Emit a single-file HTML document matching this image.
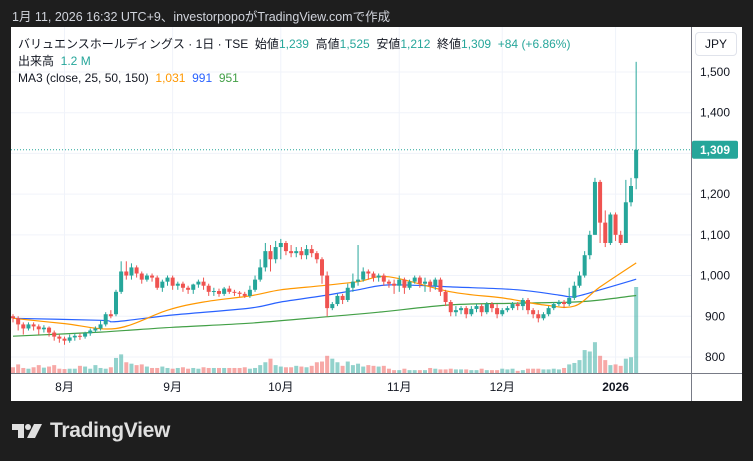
<!DOCTYPE html>
<html><head><meta charset="utf-8"><style>
body{margin:0;width:753px;height:461px;background:#1e1e1e;overflow:hidden;font-family:"Liberation Sans","Noto Sans CJK JP",sans-serif;}
#hdr{position:absolute;left:12px;top:6px;color:#d1d4dc;font-size:12.5px;}
#panel{position:absolute;left:11px;top:27px;width:731px;height:374px;background:#fff;}
svg text{font-family:"Liberation Sans","Noto Sans CJK JP",sans-serif;}
</style></head><body>
<div id="hdr">1月 11, 2026 16:32 UTC+9、investorpopoがTradingView.comで作成</div>
<div id="panel"></div>
<svg id="chart" width="753" height="461" style="position:absolute;left:0;top:0">
<g id="grid"></g>
<g id="vol"></g>
<g id="mas"></g>
<g id="candles"></g>
<g id="axes"></g>
</svg>
<div style="position:absolute;left:18px;top:36px;font-size:12px;color:#131722;line-height:17px">
<div>バリュエンスホールディングス · 1日 · TSE&nbsp; 始値<span style="color:#26a69a">1,239</span>&nbsp; 高値<span style="color:#26a69a">1,525</span>&nbsp; 安値<span style="color:#26a69a">1,212</span>&nbsp; 終値<span style="color:#26a69a">1,309</span>&nbsp; <span style="color:#26a69a">+84 (+6.86%)</span></div>
<div>出来高&nbsp; <span style="color:#26a69a">1.2 M</span></div>
<div>MA3 (close, 25, 50, 150)&nbsp; <span style="color:#ff9800">1,031</span>&nbsp; <span style="color:#2962ff">991</span>&nbsp; <span style="color:#43a047">951</span></div>
</div>
<div style="position:absolute;left:695px;top:32px;width:42px;height:24px;border:1px solid #e0e3eb;border-radius:4px;box-sizing:border-box;font-size:12px;color:#131722;text-align:center;line-height:22px;background:#fff">JPY</div>
<div style="position:absolute;left:12px;top:418px;height:26px;display:flex;align-items:center">
<svg width="32" height="16" viewBox="0 0 32 16"><path d="M0 1h12v14H6V7H0z" fill="#e0e0e0"/><circle cx="16" cy="4" r="3" fill="#e0e0e0"/><path d="M22 1h8l-7 14h-8z" fill="#e0e0e0"/></svg>
<span style="color:#e0e0e0;font-size:21px;font-weight:bold;margin-left:6px;letter-spacing:-0.3px">TradingView</span></div>
<script>
const opens=[900,895,880,870,880,875,868,872,860,850,845,840,848,852,850,858,865,870,880,905,905,960,1010,1000,1020,1005,990,1000,995,970,985,995,975,980,970,965,978,985,975,960,962,955,968,960,958,955,950,965,990,1020,1060,1040,1070,1080,1060,1055,1060,1050,1065,1055,1040,1000,920,930,950,940,970,985,990,1010,1005,995,1000,985,980,975,990,970,985,995,980,985,975,990,960,935,910,915,920,905,918,925,910,930,920,905,915,920,930,925,940,915,905,895,905,920,930,935,930,945,975,1000,1050,1100,1230,1130,1080,1150,1100,1080,1180,1239];
const highs=[905,900,885,885,885,880,878,875,865,855,850,855,858,858,862,870,875,890,910,915,965,1035,1035,1030,1025,1010,1005,1005,1000,990,1000,1000,985,985,975,980,990,995,980,970,968,972,975,965,962,960,975,1000,1040,1080,1075,1085,1090,1085,1075,1070,1070,1075,1075,1060,1045,1010,935,955,955,980,1005,1075,1020,1015,1010,1005,1005,990,990,1000,995,990,1000,1000,995,990,995,995,965,940,925,925,925,925,930,930,935,935,930,920,925,935,935,945,945,920,915,910,925,935,940,940,970,985,1010,1060,1110,1240,1235,1160,1155,1155,1110,1235,1240,1525];
const lows=[885,865,855,865,865,855,860,850,840,835,830,835,840,842,845,852,860,865,875,895,900,955,990,990,995,980,985,985,965,960,975,965,965,960,955,955,970,965,950,950,948,950,955,950,948,945,945,960,985,1010,1010,1030,1040,1050,1045,1045,1040,1040,1045,1030,980,900,915,925,930,935,960,975,985,990,985,985,975,970,955,960,955,965,980,970,960,960,965,950,925,900,900,905,895,900,910,900,905,910,895,900,910,915,915,915,905,895,885,890,900,915,925,920,925,940,970,995,1040,1100,1080,1070,1075,1085,1075,1130,1170,1212];
const closes=[895,880,870,880,875,868,872,860,850,845,840,848,852,850,858,865,870,880,905,900,960,1010,1000,1020,1005,990,1000,995,970,985,995,975,980,970,965,978,985,975,960,962,955,968,960,958,955,950,965,990,1020,1060,1040,1070,1080,1060,1055,1060,1050,1065,1055,1040,1000,920,930,950,940,970,985,990,1010,1005,995,1000,985,980,975,990,970,985,995,980,985,975,990,960,935,910,915,920,905,918,925,910,930,920,905,915,920,930,925,940,915,905,895,905,920,930,935,930,945,975,1000,1050,1100,1230,1130,1080,1150,1100,1080,1180,1220,1309];
const volumes=[80,120,70,60,80,110,75,90,110,60,55,60,60,100,90,60,110,70,60,80,210,260,150,130,110,120,90,70,70,90,70,60,70,80,60,70,60,80,70,70,70,70,70,70,70,80,60,70,110,150,200,110,90,80,80,100,90,80,100,150,160,240,200,150,100,160,110,130,90,110,100,90,100,60,40,40,60,40,40,40,40,70,60,50,50,60,50,50,50,40,40,60,40,40,40,60,50,60,30,40,60,60,60,50,50,60,50,70,120,140,180,320,300,430,240,180,110,120,100,200,220,1200];
const ma25Idx=[0,10,20,30,37,46,52,60,67,73,85,95,103,109,114,121];
const ma25=[895,882,870,915,935,950,965,975,985,997,960,945,928,925,972,1031];
const ma50Idx=[0,17,20,31,46,52,60,67,73,85,98,106,109,114,121];
const ma50=[895,890,887,903,920,935,950,965,977,972,965,952,948,965,991];
const ma150Idx=[0,17,31,46,62,71,85,98,109,114,121];
const ma150=[851,861,873,883,900,910,928,932,935,940,951];
const priceTicks=[800,900,1000,1100,1200,1300,1400,1500];
const monthLabels=["8月","9月","10月","11月","12月","2026"];
const monthIdx=[10,31,52,75,95,117];

const NS="http://www.w3.org/2000/svg";
const x=i=>13+i*5.15;
const y=p=>72+(1500-p)*0.4071;
const vy=v=>373-v*(86/1200);
function mk(tag,attrs,parent){const e=document.createElementNS(NS,tag);for(const k in attrs)e.setAttribute(k,attrs[k]);document.getElementById(parent).appendChild(e);return e;}
const up="#26a69a",dn="#ef5350";
priceTicks.forEach(p=>{
  const l=mk("line",{x1:11,x2:691,y1:y(p),y2:y(p),stroke:"#f0f3fa"},"grid");
  
  
  if(p!==1300){const t=mk("text",{x:715,y:y(p)+4,"font-size":12,fill:"#131722","text-anchor":"middle"},"axes");t.textContent=p.toLocaleString("en-US");
  
  }
});
monthIdx.forEach((m,k)=>{
  const l=mk("line",{x1:x(m),x2:x(m),y1:27,y2:373,stroke:"#f0f3fa"},"grid");
  
  
  const t=mk("text",{x:x(m),y:391,"font-size":12,fill:"#131722","text-anchor":"middle","font-weight":monthLabels[k]==="2026"?"bold":"normal"},"axes");t.textContent=monthLabels[k];
  
  
});
closes.forEach((c,i)=>{
  const col=c>=opens[i]?up:dn;
  const v=mk("rect",{x:x(i)-2,y:vy(volumes[i]),width:4,height:373-vy(volumes[i]),fill:col,opacity:0.5},"vol");
  
  
  const w=mk("line",{x1:x(i),x2:x(i),y1:y(highs[i]),y2:y(lows[i]),stroke:col,"stroke-width":1},"candles");
  
  
  const t=y(Math.max(c,opens[i])),b=y(Math.min(c,opens[i]));
  const r=mk("rect",{x:x(i)-2,y:t,width:4,height:Math.max(1,b-t),fill:col},"candles");
  
  
});
function line(idx,vals,col,name){
  const P=idx.map((ix,k)=>[x(ix),y(vals[k])]);
  let d="M"+P[0][0].toFixed(1)+","+P[0][1].toFixed(1);
  for(let k=0;k<P.length-1;k++){
    const p0=P[Math.max(0,k-1)],p1=P[k],p2=P[k+1],p3=P[Math.min(P.length-1,k+2)];
    const c1=[p1[0]+(p2[0]-p0[0])/6,p1[1]+(p2[1]-p0[1])/6];
    const c2=[p2[0]-(p3[0]-p1[0])/6,p2[1]-(p3[1]-p1[1])/6];
    d+="C"+c1[0].toFixed(1)+","+c1[1].toFixed(1)+" "+c2[0].toFixed(1)+","+c2[1].toFixed(1)+" "+p2[0].toFixed(1)+","+p2[1].toFixed(1);
  }
  const p=mk("path",{d:d,fill:"none",stroke:col,"stroke-width":1.2,"stroke-linejoin":"round"},"mas");
  
  
}
line(ma150Idx,ma150,"#43a047","ma150-line");
line(ma50Idx,ma50,"#2962ff","ma50-line");
line(ma25Idx,ma25,"#ff9800","ma25-line");
const last=closes[closes.length-1];
const pl=mk("line",{x1:11,x2:691,y1:y(last),y2:y(last),stroke:up,"stroke-dasharray":"1 2"},"axes");


const ax=mk("line",{x1:11,x2:742,y1:373.5,y2:373.5,stroke:"#787b86"},"axes");


const ay=mk("line",{x1:691.5,x2:691.5,y1:27,y2:401,stroke:"#787b86"},"axes");


const lb=mk("rect",{x:692,y:y(last)-9,width:46,height:18,fill:up,rx:2},"axes");


const lt=mk("text",{x:715,y:y(last)+4,"font-size":12,fill:"#fff","text-anchor":"middle","font-weight":"bold"},"axes");lt.textContent=last.toLocaleString("en-US");


</script>
</body></html>
